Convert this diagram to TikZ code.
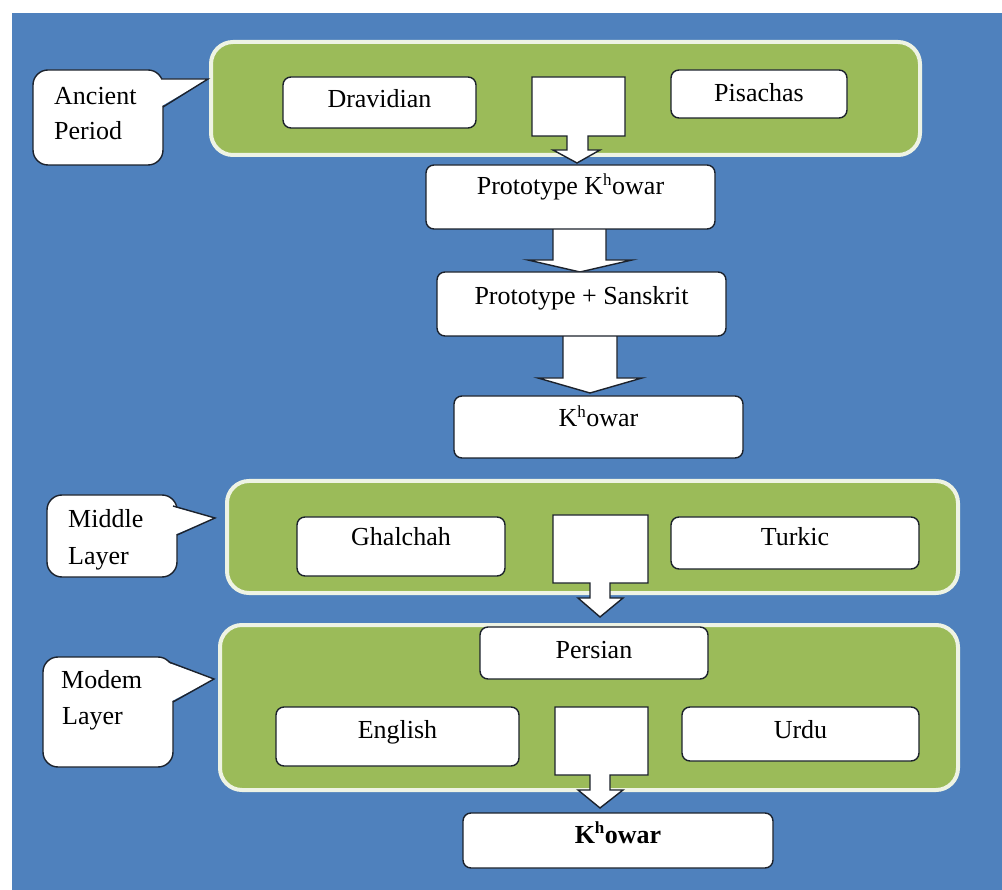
\documentclass[tikz,border=0pt]{standalone}
\usepackage{fontspec}
\setmainfont{Liberation Serif}
\usetikzlibrary{calc}
\definecolor{bgblue}{RGB}{79,129,189}
\definecolor{lgreen}{RGB}{155,187,89}
\definecolor{gborder}{RGB}{238,243,228}
\definecolor{edge}{RGB}{28,34,44}
\tikzset{
  panel/.style={fill=lgreen, draw=gborder, line width=4pt, rounded corners=22pt},
  langbox/.style={fill=white, draw=edge, line width=1.4pt, rounded corners=8pt, inner sep=0pt},
  callout/.style={fill=white, draw=edge, line width=1.4pt, rounded corners=15pt, inner sep=0pt},
  txt/.style={font=\fontsize{26}{36}\selectfont, inner sep=0pt, text=black},
  blockarrow/.style={fill=white, draw=edge, line width=1.4pt, line join=miter},
  pointeredge/.style={draw=edge, line width=1.4pt, line join=miter},
}
\newcommand\kh{K\textsuperscript{\fontsize{17}{17}\selectfont h}}
\begin{document}
\begin{tikzpicture}[x=1pt,y=-1pt]
\useasboundingbox (0,0) rectangle (1002,890);
\fill[white] (0,0) rectangle (1002,890);
\fill[bgblue] (12,13) rectangle (1002,890);

% green panels
\draw[panel] (211,42) rectangle (920,155);
\draw[panel] (227,481) rectangle (958,593);
\draw[panel] (220,625) rectangle (958,790);

% block arrows inside panels
\coordinate (a0) at (577,163);
\draw[blockarrow] (532,77) -- (625,77) -- (625,136) -- (588,136) -- (588,150) -- (600,150)
  -- (a0) -- (553,150) -- (567,150) -- (567,136) -- (532,136) -- cycle;
\coordinate (am) at (600,617);
\draw[blockarrow] (553,515) -- (648,515) -- (648,583) -- (610,583) -- (610,598) -- (623,598)
  -- (am) -- (578,598) -- (590,598) -- (590,583) -- (553,583) -- cycle;
\coordinate (amod) at (600,808);
\draw[blockarrow] (555,707) -- (648,707) -- (648,775) -- (610,775) -- (610,790) -- (623,790)
  -- (amod) -- (578,790) -- (590,790) -- (590,775) -- (555,775) -- cycle;

% arrows on blue
\coordinate (a1) at (580,272);
\draw[blockarrow] (553,226) -- (553,260) -- (528,260) -- (a1) -- (632,260) -- (606,260) -- (606,226) -- cycle;
\coordinate (a2) at (590,393);
\draw[blockarrow] (563,333) -- (563,378) -- (538,378) -- (a2) -- (642,378) -- (617,378) -- (617,333) -- cycle;

% language boxes
\node[langbox, minimum width=193pt, minimum height=51pt] (drav) at (379.5,102.5) {};
\node[txt, anchor=base] (dravt) at (379.5,108) {Dravidian};
\node[langbox, minimum width=176pt, minimum height=48pt] (pis) at (759,94) {};
\node[txt, anchor=base] (pist) at (759,102) {Pisachas};
\node[langbox, minimum width=289pt, minimum height=64pt] (pk) at (570.5,197) {};
\node[txt, anchor=base] (pkt) at (570.5,195) {Prototype \kh owar};
\node[langbox, minimum width=289pt, minimum height=64pt] (ps) at (581.5,304) {};
\node[txt, anchor=base] (pst) at (581.5,305) {Prototype + Sanskrit};
\node[langbox, minimum width=289pt, minimum height=62pt] (kh) at (598.5,427) {};
\node[txt, anchor=base] (kht) at (598.5,427) {\kh owar};
\node[langbox, minimum width=208pt, minimum height=59pt] (gh) at (401,546.5) {};
\node[txt, anchor=base] (ght) at (401,546) {Ghalchah};
\node[langbox, minimum width=248pt, minimum height=52pt] (tu) at (795,543) {};
\node[txt, anchor=base] (tut) at (795,546) {Turkic};
\node[langbox, minimum width=228pt, minimum height=52pt] (pe) at (594,653) {};
\node[txt, anchor=base] (pet) at (594,658) {Persian};
\node[langbox, minimum width=243pt, minimum height=59pt] (en) at (397.5,736.5) {};
\node[txt, anchor=base] (ent) at (397.5,738) {English};
\node[langbox, minimum width=237pt, minimum height=54pt] (ur) at (800.5,734) {};
\node[txt, anchor=base] (urt) at (800.5,738) {Urdu};
\node[langbox, minimum width=310pt, minimum height=55pt] (fk) at (618,840.5) {};
\node[txt, anchor=base] (fkt) at (618,843) {\textbf{\kh owar}};

% callouts
\node[callout, minimum width=130pt, minimum height=95pt] (anc) at (98,117.5) {};
\coordinate (ancTip) at (208,79);
\fill[white] (158,79) -- (ancTip) -- (160,107) -- cycle;
\draw[pointeredge] (161,79) -- (ancTip) -- (163,107);
\node[txt, anchor=base west] (anct1) at (54,105) {Ancient};
\node[txt, anchor=base west] (anct2) at (54,140) {Period};

\node[callout, minimum width=130pt, minimum height=82pt] (mid) at (112,536) {};
\coordinate (midTip) at (215,518);
\fill[white] (170,506) -- (midTip) -- (174,535) -- cycle;
\draw[pointeredge] (173,506) -- (midTip) -- (177,535);
\node[txt, anchor=base west] (midt1) at (68,528) {Middle};
\node[txt, anchor=base west] (midt2) at (68,564) {Layer};

\node[callout, minimum width=130pt, minimum height=110pt] (mod) at (108,712) {};
\coordinate (modTip) at (214,679);
\fill[white] (166,662) -- (modTip) -- (170,702) -- cycle;
\draw[pointeredge] (169,662) -- (modTip) -- (173,702);
\node[txt, anchor=base west] (modt1) at (61,688) {Modem};
\node[txt, anchor=base west] (modt2) at (62,724) {Layer};
\end{tikzpicture}
\end{document}
